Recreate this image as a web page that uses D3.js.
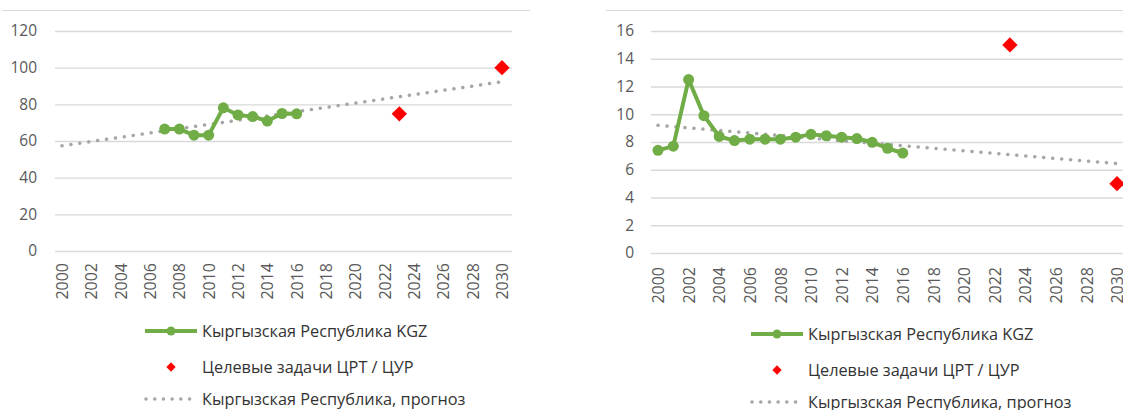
<!DOCTYPE html>
<html>
<head>
<meta charset="utf-8">
<script src="https://cdnjs.cloudflare.com/ajax/libs/d3/7.8.5/d3.min.js"></script>
<style>
  body { margin: 0; background: #fff; }
  svg { display: block; font-family: "Open Sans", sans-serif; }
</style>
</head>
<body>
<div id="chart"></div>
<script>
// ---- data ----
var xTickYears = [2000, 2002, 2004, 2006, 2008, 2010, 2012, 2014, 2016, 2018, 2020, 2022, 2024, 2026, 2028, 2030];

// left panel
var kgzYearsA = [2007, 2008, 2009, 2010, 2011, 2012, 2013, 2014, 2015, 2016];
var kgzValuesA = [66.5, 66.5, 63.2, 63.2, 78.1, 74.2, 73.3, 70.9, 75.0, 74.8];
var targetYearsA = [2023, 2030];
var targetValuesA = [74.8, 100];
var trendYearsA = [2000, 2030];
var trendValuesA = [57.4, 92.3];
var yTicksA = [0, 20, 40, 60, 80, 100, 120];

// right panel
var kgzYearsB = [2000, 2001, 2002, 2003, 2004, 2005, 2006, 2007, 2008, 2009, 2010, 2011, 2012, 2013, 2014, 2015, 2016];
var kgzValuesB = [7.4, 7.7, 12.5, 9.9, 8.4, 8.1, 8.2, 8.2, 8.2, 8.35, 8.55, 8.45, 8.35, 8.25, 7.98, 7.55, 7.2];
var targetYearsB = [2023, 2030];
var targetValuesB = [15, 5];
var trendYearsB = [2000, 2030];
var trendValuesB = [9.2, 6.45];
var yTicksB = [0, 2, 4, 6, 8, 10, 12, 14, 16];

var legendLabels = ["Кыргызская Республика KGZ", "Целевые задачи ЦРТ / ЦУР", "Кыргызская Республика, прогноз"];

var GREEN = "#70ad47", RED = "#ff0000", GREY_DOT = "#a6a6a6", GRID = "#d9d9d9";

var svg = d3.select("#chart").append("svg")
  .attr("width", 1123)
  .attr("height", 410);

function zip(a, b) {
  return a.map(function(d, i) { return { x: d, y: b[i] }; });
}

var Trend_Chart = function(opt) {
  this.g = svg.append("g");
  this.opt = opt;
  this.draw();
};

Trend_Chart.prototype.draw = function() {
  var o = this.opt;
  this.xScale = d3.scaleLinear().domain([2000, 2030]).range(o.xRange);
  this.yScale = d3.scaleLinear().domain([0, d3.max(o.yTicks)]).range(o.yRange);
  this.drawFrame();
  this.drawAxes();
  this.drawSeries();
  this.drawLegend();
};

Trend_Chart.prototype.drawFrame = function() {
  var o = this.opt;
  this.g.append("line")
    .attr("x1", o.border[0]).attr("x2", o.border[1])
    .attr("y1", 10.5).attr("y2", 10.5)
    .attr("stroke", GRID).attr("stroke-width", 1);
};

Trend_Chart.prototype.drawAxes = function() {
  var o = this.opt;

  // horizontal gridlines + y labels
  var yAxis = d3.axisLeft(this.yScale)
    .tickValues(o.yTicks)
    .tickSize(-(o.grid[1] - o.grid[0]))
    .tickPadding(o.grid[0] - o.yLabelRight);
  var ya = this.g.append("g")
    .attr("transform", "translate(" + o.grid[0] + ",0)")
    .call(yAxis);
  ya.select(".domain").remove();
  ya.selectAll(".tick line").attr("stroke", GRID).attr("stroke-width", 1.3);
  ya.selectAll(".tick text")
    .attr("fill", "#595959")
    .style("font-size", "15.5px")
    .style("font-family", "Open Sans, sans-serif");

  // rotated year labels
  var xa = this.g.append("g")
    .attr("transform", "translate(0," + o.xLabelTop + ")")
    .call(d3.axisBottom(this.xScale).tickValues(xTickYears).tickFormat(d3.format("d")).tickSize(0));
  xa.select(".domain").remove();
  xa.selectAll(".tick text")
    .attr("fill", "#595959")
    .attr("transform", "rotate(-90)")
    .attr("x", 0).attr("y", 0).attr("dy", "0.35em")
    .attr("text-anchor", "end")
    .style("font-size", "16px")
    .style("font-family", "Open Sans, sans-serif");
};

Trend_Chart.prototype.drawSeries = function() {
  var o = this.opt, that = this;
  var line = d3.line()
    .x(function(d) { return that.xScale(d.x); })
    .y(function(d) { return that.yScale(d.y); });

  // forecast trend (dotted)
  this.g.append("path")
    .datum(zip(o.trendYears, o.trendValues))
    .attr("d", line)
    .attr("fill", "none")
    .attr("stroke", GREY_DOT)
    .attr("stroke-width", 3.5)
    .attr("stroke-linecap", "round")
    .attr("stroke-dasharray", "0.1 8.9");

  // observed series
  var kgz = zip(o.kgzYears, o.kgzValues);
  this.g.append("path")
    .datum(kgz)
    .attr("d", line)
    .attr("fill", "none")
    .attr("stroke", GREEN)
    .attr("stroke-width", 4)
    .attr("stroke-linejoin", "round");

  this.g.selectAll("circle.kgz")
    .data(kgz)
    .enter().append("circle")
    .attr("class", "kgz")
    .attr("cx", function(d) { return that.xScale(d.x); })
    .attr("cy", function(d) { return that.yScale(d.y); })
    .attr("r", 5.5)
    .attr("fill", GREEN);

  // targets (diamonds)
  this.g.selectAll("path.target")
    .data(zip(o.targetYears, o.targetValues))
    .enter().append("path")
    .attr("class", "target")
    .attr("d", d3.symbol().type(d3.symbolDiamond2).size(150))
    .attr("transform", function(d) {
      return "translate(" + that.xScale(d.x) + "," + that.yScale(d.y) + ")";
    })
    .attr("fill", RED);
};

Trend_Chart.prototype.drawLegend = function() {
  var o = this.opt;
  var lg = this.g.append("g").attr("transform", "translate(" + o.legend[0] + "," + o.legend[1] + ")");
  var rows = [0, 36, 68];

  lg.append("line")
    .attr("x1", 0).attr("x2", 52).attr("y1", rows[0]).attr("y2", rows[0])
    .attr("stroke", GREEN).attr("stroke-width", 4);
  lg.append("circle").attr("cx", 26).attr("cy", rows[0]).attr("r", 4.5).attr("fill", GREEN);

  lg.append("path")
    .attr("d", d3.symbol().type(d3.symbolDiamond2).size(55))
    .attr("transform", "translate(26," + rows[1] + ")")
    .attr("fill", RED);

  lg.append("line")
    .attr("x1", 1).attr("x2", 50).attr("y1", rows[2]).attr("y2", rows[2])
    .attr("stroke", GREY_DOT).attr("stroke-width", 3.5)
    .attr("stroke-linecap", "round")
    .attr("stroke-dasharray", "0.1 8.6");

  lg.selectAll("text")
    .data(legendLabels)
    .enter().append("text")
    .attr("x", 57)
    .attr("y", function(d, i) { return rows[i]; })
    .attr("dy", "0.35em")
    .attr("fill", "#333333")
    .style("font-size", "16.3px")
    .text(function(d) { return d; });
};

new Trend_Chart({
  xRange: [62, 502],
  yRange: [251, 31],
  yTicks: yTicksA,
  grid: [55, 512],
  yLabelRight: 37,
  xLabelTop: 263,
  border: [2, 530],
  kgzYears: kgzYearsA, kgzValues: kgzValuesA,
  targetYears: targetYearsA, targetValues: targetValuesA,
  trendYears: trendYearsA, trendValues: trendValuesA,
  legend: [145, 331]
});

new Trend_Chart({
  xRange: [658, 1117],
  yRange: [253, 31],
  yTicks: yTicksB,
  grid: [651, 1123],
  yLabelRight: 634,
  xLabelTop: 267,
  border: [606, 1123],
  kgzYears: kgzYearsB, kgzValues: kgzValuesB,
  targetYears: targetYearsB, targetValues: targetValuesB,
  trendYears: trendYearsB, trendValues: trendValuesB,
  legend: [751, 334]
});
</script>
</body>
</html>
